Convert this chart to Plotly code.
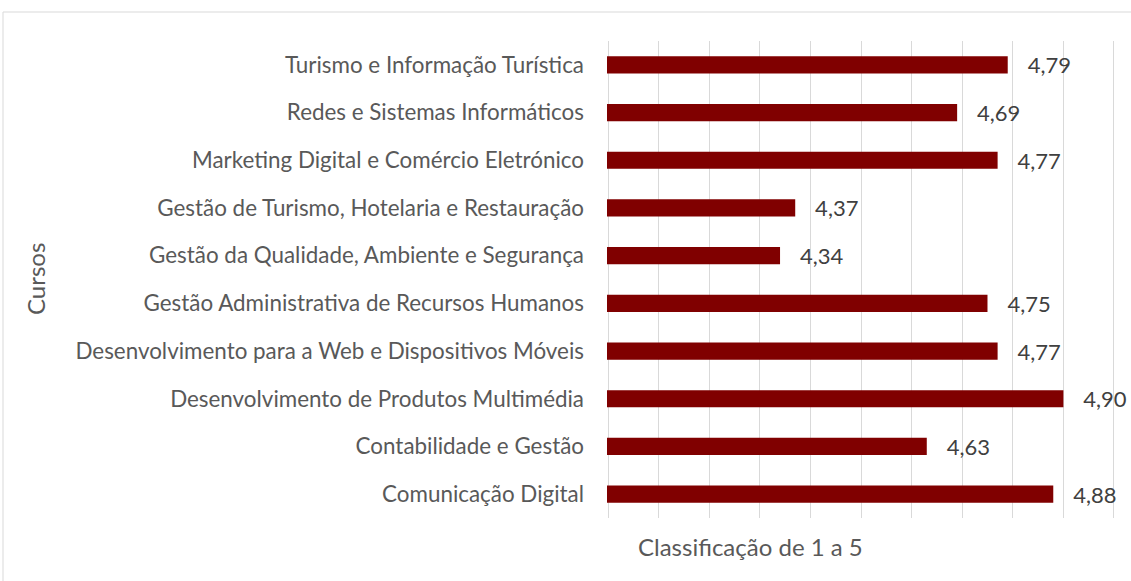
import plotly.graph_objects as go

cursos = [
    "Comunicação Digital",
    "Contabilidade e Gestão",
    "Desenvolvimento de Produtos Multimédia",
    "Desenvolvimento para a Web e Dispositivos Móveis",
    "Gestão Administrativa de Recursos Humanos",
    "Gestão da Qualidade, Ambiente e Segurança",
    "Gestão de Turismo, Hotelaria e Restauração",
    "Marketing Digital e Comércio Eletrónico",
    "Redes e Sistemas Informáticos",
    "Turismo e Informação Turística",
]
classificacao = [4.88, 4.63, 4.90, 4.77, 4.75, 4.34, 4.37, 4.77, 4.69, 4.79]

FONT = "Lato"

fig = go.Figure(
    go.Bar(
        x=classificacao,
        y=cursos,
        orientation="h",
        marker=dict(color="#800000", line=dict(width=0)),
        width=0.36,
        texttemplate="\u00a0\u00a0\u00a0%{x:.2f}",
        textposition="outside",
        constraintext="none",
        textfont=dict(family=FONT, size=22, color="#404040"),
        cliponaxis=False,
    )
)

L, R, T, B = 607, 1115, 41, 518
W, H = 1131, 581
pw, ph = R - L, B - T

fig.update_layout(
    width=W,
    height=H,
    margin=dict(l=L, r=W - R, t=T, b=H - B, pad=0),
    paper_bgcolor="white",
    plot_bgcolor="white",
    separators=",.",
    showlegend=False,
    xaxis=dict(
        range=[3.998, 5.002],
        dtick=0.1,
        tick0=4.0,
        showgrid=True,
        gridcolor="#d9d9d9",
        gridwidth=1,
        showticklabels=False,
        zeroline=False,
        showline=False,
        automargin=False,
        fixedrange=True,
    ),
    yaxis=dict(
        showgrid=False,
        showline=False,
        ticks="",
        ticklabelstandoff=22,
        automargin=False,
        tickfont=dict(family=FONT, size=22.4, color="#595959"),
        fixedrange=True,
    ),
    annotations=[
        dict(
            text="Classificação de 1 a 5",
            xref="paper", yref="paper",
            x=(636 - L) / pw, y=(B - 530) / ph,
            xanchor="left", yanchor="top",
            showarrow=False,
            font=dict(family=FONT, size=24, color="#595959"),
        ),
        dict(
            text="Cursos",
            xref="paper", yref="paper",
            x=(35 - L) / pw, y=(B - 279) / ph,
            xanchor="center", yanchor="middle",
            textangle=-90,
            showarrow=False,
            font=dict(family=FONT, size=24, color="#595959"),
        ),
    ],
    shapes=[
        dict(
            type="rect",
            xref="paper", yref="paper",
            x0=(3 - L) / pw, x1=(1140 - L) / pw,
            y0=(B - 600) / ph, y1=(B - 12) / ph,
            line=dict(color="#d9d9d9", width=1),
            fillcolor="rgba(0,0,0,0)",
            layer="below",
        )
    ],
)

fig.write_html(
    "out.html",
    config={"displayModeBar": False},
    post_script="document.body.style.margin='0';",
)
